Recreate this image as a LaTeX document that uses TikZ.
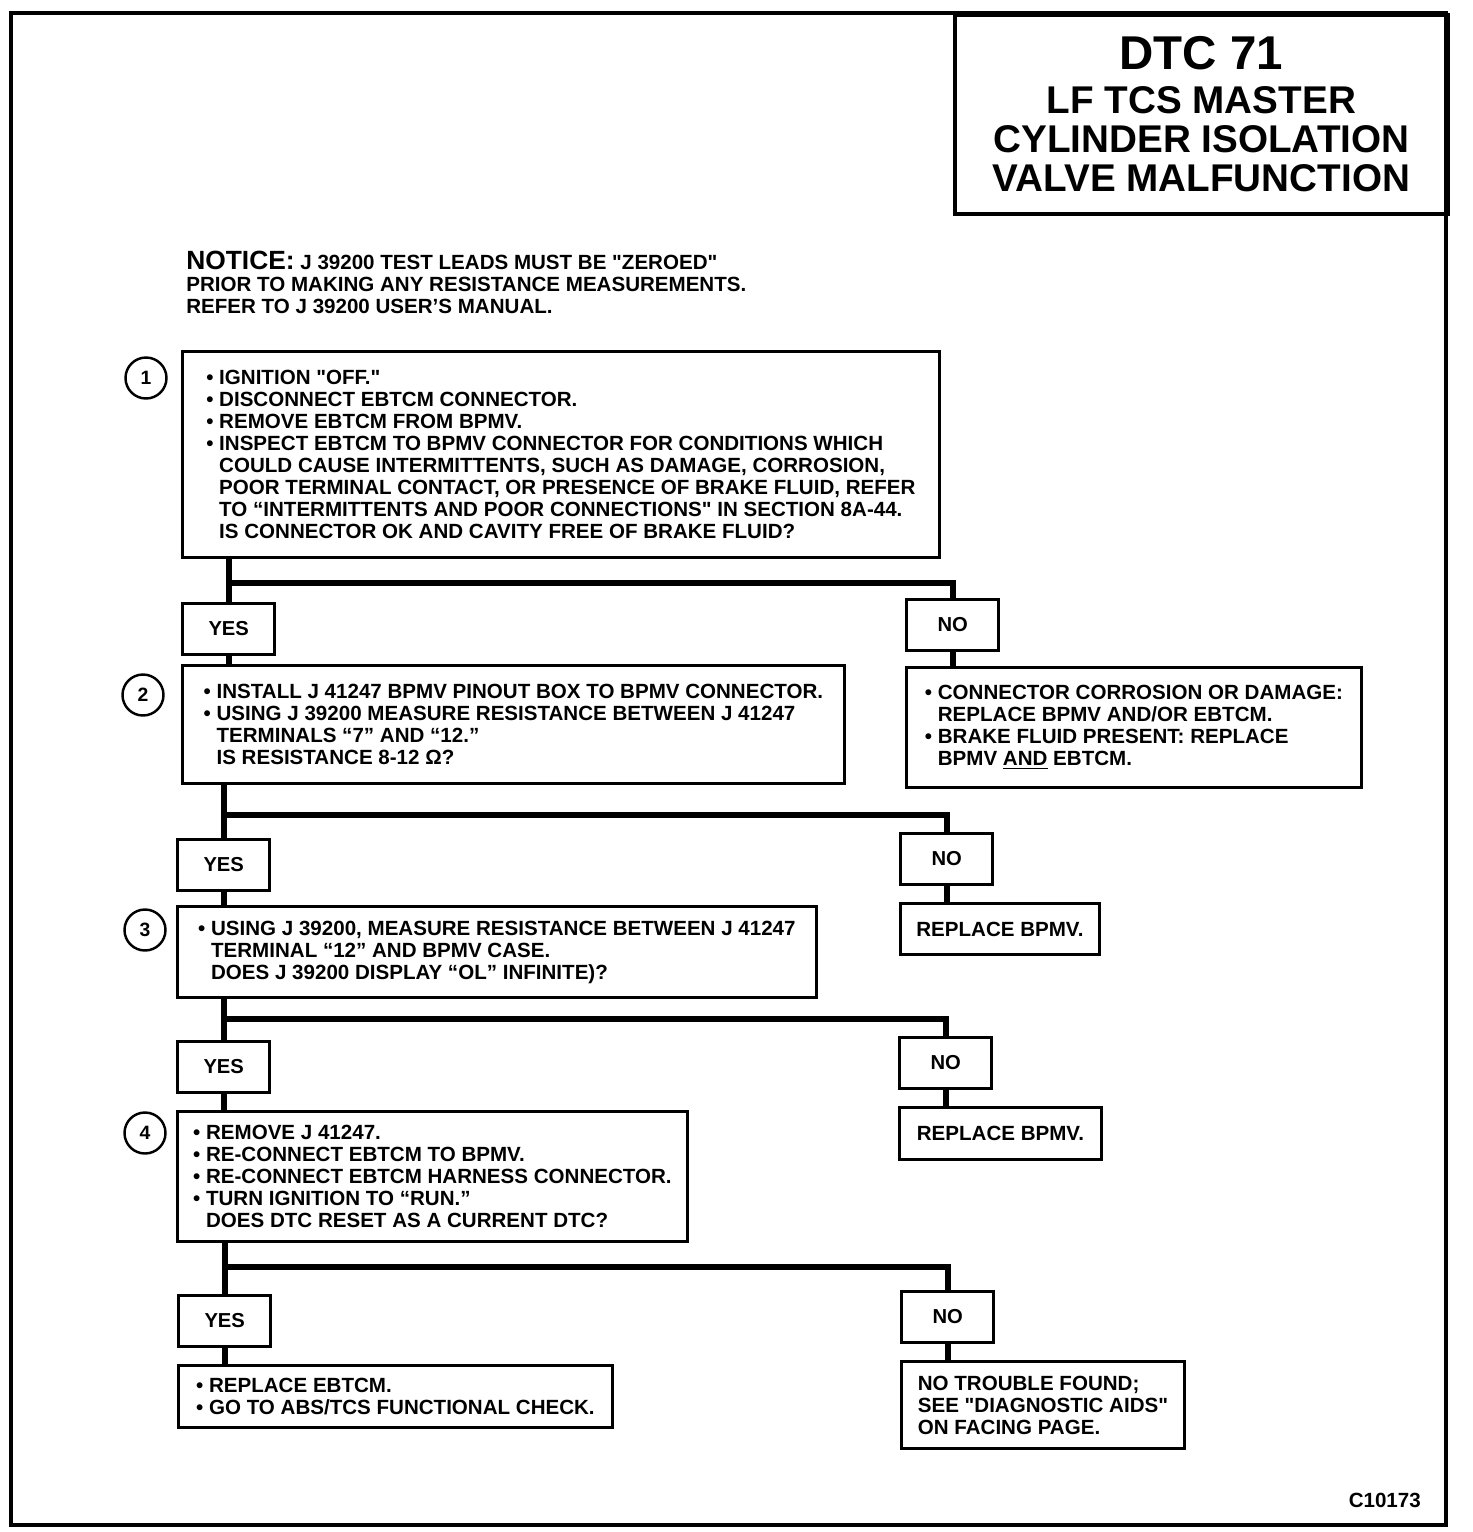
\documentclass[tikz,border=0pt]{standalone}
\usepackage{fontspec}
\setmainfont{Liberation Sans}
\usepackage{tikz}

\newcommand{\bul}{\textbullet\ }
\newcommand{\ind}{\phantom{\textbullet\ }}
\newcommand{\qd}{\textquotedbl}

\begin{document}
\begin{tikzpicture}[x=0.02cm, y=-0.02cm,
	every node/.style={font=\bfseries\fontsize{11.7}{12.5}\selectfont},
	stepbox/.style={draw, rectangle, line width=1.7pt, anchor=north west, align=left, inner sep=3pt},
	ansbox/.style={draw, rectangle, line width=1.7pt, anchor=north west, minimum width=1.85cm, minimum height=1.02cm, font=\bfseries\fontsize{11.5}{12}\selectfont},
	num/.style={draw, circle, line width=1.4pt, minimum size=0.82cm, inner sep=0pt, font=\bfseries\fontsize{11}{12}\selectfont},
	link/.style={line width=3.2pt}]
	\useasboundingbox (0,0) rectangle (1472,1532);
	\draw[line width=2.3pt] (11,13) rectangle (1446,1525);

	% title and notice
	\node[draw, line width=2.2pt, anchor=north west, minimum width=9.86cm, minimum height=3.98cm, align=center, font=\bfseries\fontsize{22}{22.2}\selectfont] (T) at (953,13) {{\fontsize{27}{22.2}\selectfont DTC 71}\\[3pt] LF TCS MASTER\\ CYLINDER ISOLATION\\ VALVE MALFUNCTION};
	\node[anchor=north west, align=left, inner sep=0pt] (NT) at (186,251) {{\fontsize{15}{12.5}\selectfont NOTICE:} J 39200 TEST LEADS MUST BE \qd ZEROED\qd\\ PRIOR TO MAKING ANY RESISTANCE MEASUREMENTS.\\ REFER TO J 39200 USER'S MANUAL.};

	% steps
	\node[num] (C1) at (146,378) {1};
	\node[stepbox, minimum width=15.14cm, minimum height=4.12cm] (S1) at (181,350) {\bul IGNITION \qd OFF.\qd\\ \bul DISCONNECT EBTCM CONNECTOR.\\ \bul REMOVE EBTCM FROM BPMV.\\ \bul INSPECT EBTCM TO BPMV CONNECTOR FOR CONDITIONS WHICH\\ \ind COULD CAUSE INTERMITTENTS, SUCH AS DAMAGE, CORROSION,\\ \ind POOR TERMINAL CONTACT, OR PRESENCE OF BRAKE FLUID, REFER\\ \ind TO ``INTERMITTENTS AND POOR CONNECTIONS\qd\ IN SECTION 8A-44.\\ \ind IS CONNECTOR OK AND CAVITY FREE OF BRAKE FLUID?};
	\node[ansbox] (Y1) at (181,602) {YES};
	\node[ansbox] (N1) at (905,598) {NO};
	\node[num] (C2) at (143,695) {2};
	\node[stepbox, minimum width=13.24cm, minimum height=2.36cm] (S2) at (181,664) {\bul INSTALL J 41247 BPMV PINOUT BOX TO BPMV CONNECTOR.\\ \bul USING J 39200 MEASURE RESISTANCE BETWEEN J 41247\\ \ind TERMINALS ``7'' AND ``12.''\\ \ind IS RESISTANCE 8-12 Ω?};
	\node[stepbox, minimum width=9.1cm, minimum height=2.4cm] (R1) at (905,666) {\bul CONNECTOR CORROSION OR DAMAGE:\\ \ind REPLACE BPMV AND/OR EBTCM.\\ \bul BRAKE FLUID PRESENT: REPLACE\\ \ind BPMV \underline{AND} EBTCM.};
	\node[ansbox] (Y2) at (176,838) {YES};
	\node[ansbox] (N2) at (899,832) {NO};
	\node[stepbox, minimum width=3.98cm, minimum height=1.02cm] (R2) at (899,902) {REPLACE BPMV.};
	\node[num] (C3) at (145,930) {3};
	\node[stepbox, minimum width=12.78cm, minimum height=1.82cm] (S3) at (176,905) {\bul USING J 39200, MEASURE RESISTANCE BETWEEN J 41247\\ \ind TERMINAL ``12'' AND BPMV CASE.\\ \ind DOES J 39200 DISPLAY ``OL'' INFINITE)?};
	\node[ansbox] (Y3) at (176,1040) {YES};
	\node[ansbox] (N3) at (898,1036) {NO};
	\node[stepbox, minimum width=4.04cm, minimum height=1.04cm] (R3) at (898,1106) {REPLACE BPMV.};
	\node[num] (C4) at (145,1133) {4};
	\node[stepbox, minimum width=10.2cm, minimum height=2.6cm] (S4) at (176,1110) {\bul REMOVE J 41247.\\ \bul RE-CONNECT EBTCM TO BPMV.\\ \bul RE-CONNECT EBTCM HARNESS CONNECTOR.\\ \bul TURN IGNITION TO ``RUN.''\\ \ind DOES DTC RESET AS A CURRENT DTC?};
	\node[ansbox] (Y4) at (177,1294) {YES};
	\node[ansbox] (N4) at (900,1290) {NO};
	\node[stepbox, minimum width=8.68cm, minimum height=1.24cm] (S5) at (177,1364) {\bul REPLACE EBTCM.\\ \bul GO TO ABS/TCS FUNCTIONAL CHECK.};
	\node[stepbox, minimum width=5.66cm, minimum height=1.74cm] (R4) at (900,1360) {NO TROUBLE FOUND;\\ SEE \qd DIAGNOSTIC AIDS\qd\\ ON FACING PAGE.};
	\node[anchor=east] (ID) at (1427,1500) {C10173};

	% connectors
	\coordinate (B1) at (227,583);
	\coordinate (B2) at (222,815);
	\coordinate (B3) at (222,1019);
	\coordinate (B4) at (223,1267);
	\draw[link] (S1.south -| Y1.north) -- (Y1.north);
	\draw[link] (B1) -| (N1.north);
	\draw[link] (Y1.south) -- (Y1.south |- S2.north);
	\draw[link] (N1.south) -- (N1.south |- R1.north);
	\draw[link] (S2.south -| Y2.north) -- (Y2.north);
	\draw[link] (B2) -| (N2.north);
	\draw[link] (Y2.south) -- (Y2.south |- S3.north);
	\draw[link] (N2.south) -- (N2.south |- R2.north);
	\draw[link] (S3.south -| Y3.north) -- (Y3.north);
	\draw[link] (B3) -| (N3.north);
	\draw[link] (Y3.south) -- (Y3.south |- S4.north);
	\draw[link] (N3.south) -- (N3.south |- R3.north);
	\draw[link] (S4.south -| Y4.north) -- (Y4.north);
	\draw[link] (B4) -| (N4.north);
	\draw[link] (Y4.south) -- (Y4.south |- S5.north);
	\draw[link] (N4.south) -- (N4.south |- R4.north);
\end{tikzpicture}
\end{document}
